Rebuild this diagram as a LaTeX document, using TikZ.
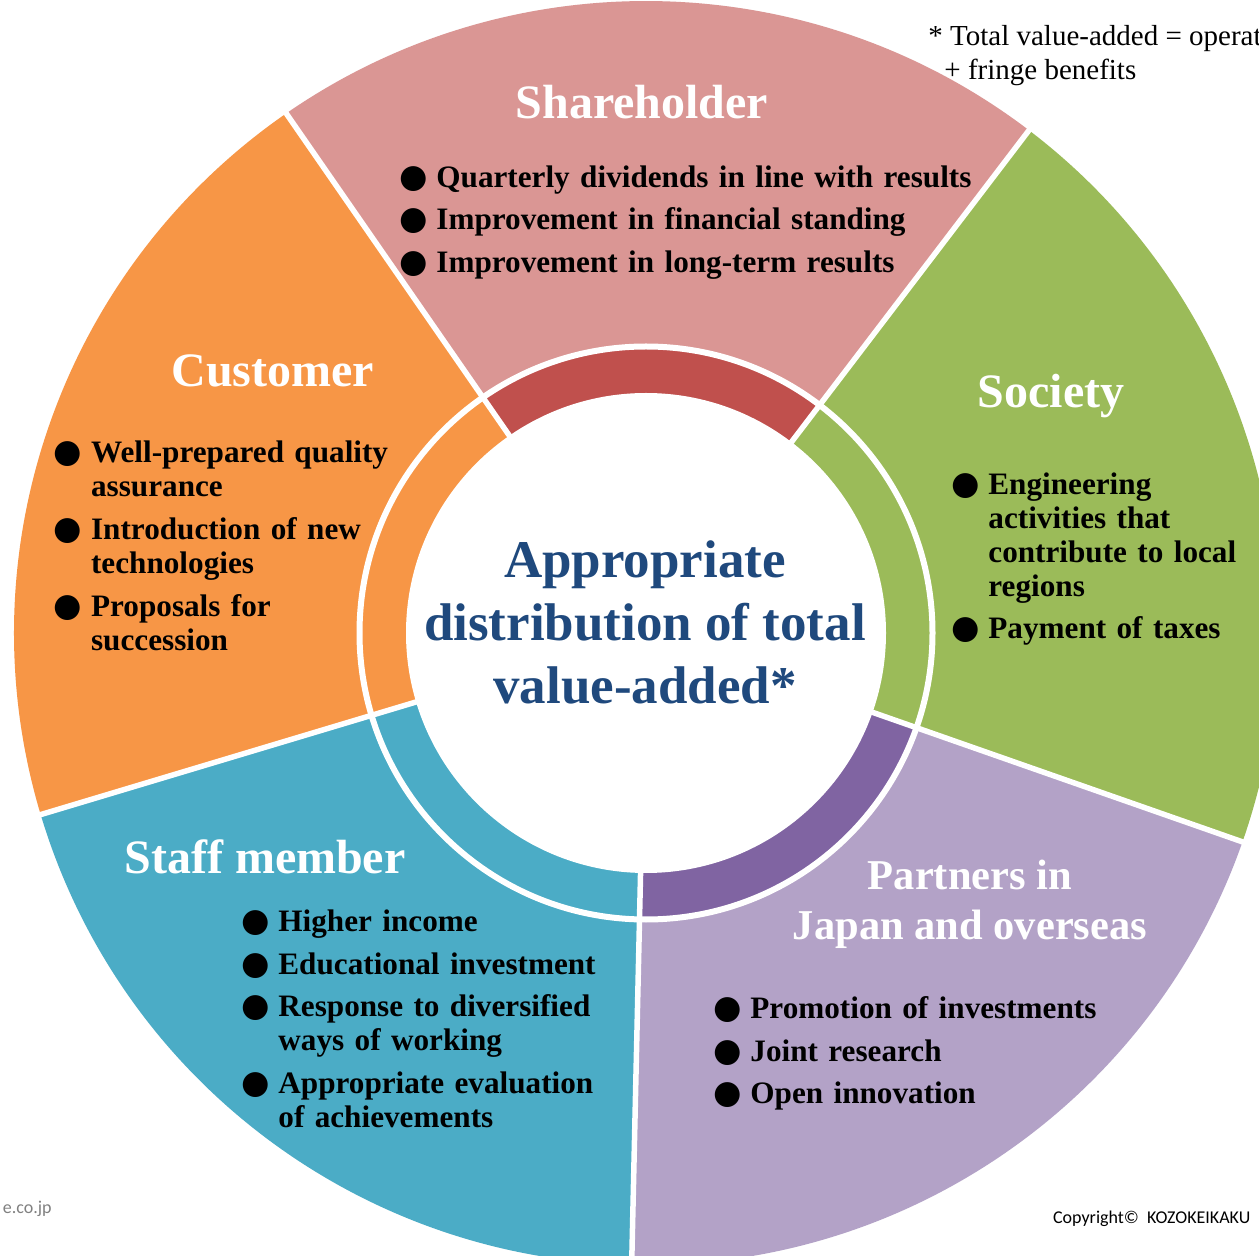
\documentclass[tikz,border=0pt]{standalone}
\usepackage{fontspec}
\setmainfont{Liberation Serif}
\newfontfamily\bulletfont{DejaVu Sans}
\newfontfamily\cpfont{Carlito}
\usetikzlibrary{calc}
\definecolor{shOut}{HTML}{DA9694}
\definecolor{shRing}{HTML}{C0504D}
\definecolor{soc}{HTML}{9BBB59}
\definecolor{paOut}{HTML}{B3A2C7}
\definecolor{paRing}{HTML}{8064A2}
\definecolor{staff}{HTML}{4BACC6}
\definecolor{cust}{HTML}{F79646}
\definecolor{navy}{HTML}{1F497D}
\newcommand\bulletglyph{\smash{\bulletfont\fontsize{16.3}{16.3}\selectfont ●}}
\newcommand\bitem[1]{\par\noindent\hangindent=17.5pt\hangafter=1\makebox[17.5pt][l]{\hspace*{-1.2pt}\rule{0pt}{13pt}\bulletglyph}#1}
\newcommand\wedgefill[4]{\fill[#1] (C) -- ++(#2:#4) arc[start angle=#2, end angle=#3, radius=#4] -- cycle;}
\begin{document}
\begin{tikzpicture}[x=0.5pt,y=0.5pt,
  title/.style={text=white, font=\fontsize{24}{24}\selectfont\bfseries, inner sep=0pt, anchor=base},
  ptitle/.style={text=white, font=\fontsize{21.25}{24.85}\selectfont\bfseries, inner sep=0pt, anchor=north, align=center},
  items/.style={text=black, font=\fontsize{15.6}{17}\selectfont\bfseries\setlength{\parskip}{4.4pt}, inner sep=0pt, anchor=north west, text width=300pt, align=left},
  centre/.style={text=navy, font=\fontsize{26.5}{31.5}\selectfont\bfseries, inner sep=0pt, anchor=north, align=center},
  sep/.style={white, line width=2.75pt},
  ringline/.style={white, line width=3pt}]
\useasboundingbox (0,0) rectangle (1259,-1256);
\clip (0,0) rectangle (1259,-1256);
\fill[white] (0,0) rectangle (1259,-1256);
\coordinate (C) at (646,-633);
% outer sectors
\wedgefill{soc}{-19.3}{52.7}{632}
\wedgefill{shOut}{52.7}{124.7}{632}
\wedgefill{cust}{124.7}{196.7}{632}
\wedgefill{staff}{196.7}{268.7}{632}
\wedgefill{paOut}{268.7}{340.7}{632}
% inner ring
\wedgefill{soc}{-19.3}{52.7}{287}
\wedgefill{shRing}{52.7}{124.7}{287}
\wedgefill{cust}{124.7}{196.7}{287}
\wedgefill{staff}{196.7}{268.7}{287}
\wedgefill{paRing}{268.7}{340.7}{287}
\draw[ringline] (C) circle[radius=286.5];
\foreach \a in {52.7,124.7,196.7,268.7,340.7} \draw[sep] (C) -- ++(\a:700);
\fill[white] (C) circle[radius=240];
% titles
\node[title] (tsh) at (642,-119) {Shareholder};
\node[title] (tcu) at (272.7,-386.7) {Customer};
\node[title] (tso) at (1051,-408) {Society};
\node[title] (tst) at (265,-873) {Staff member};
\node[ptitle] (tpa) at (970,-853.3) {\rule{0pt}{18pt}Partners in\\Japan and overseas};
% bullet lists
\node[items] (lsh) at (401,-144) {\bitem{Quarterly dividends in line with results}\bitem{Improvement in financial standing}\bitem{Improvement in long-term results}\par};
\node[items] (lcu) at (55.7,-419.7) {\bitem{Well-prepared quality\newline assurance}\bitem{Introduction of new\newline technologies}\bitem{Proposals for\newline succession}\par};
\node[items] (lso) at (953,-451) {\bitem{Engineering\newline activities that\newline contribute to local\newline regions}\bitem{Payment of taxes}\par};
\node[items] (lst) at (243,-888) {\bitem{Higher income}\bitem{Educational investment}\bitem{Response to diversified\newline ways of working}\bitem{Appropriate evaluation\newline of achievements}\par};
\node[items] (lpa) at (715,-975) {\bitem{Promotion of investments}\bitem{Joint research}\bitem{Open innovation}\par};
% centre
\node[centre] (ctr) at (645,-534.7) {\rule{0pt}{21pt}Appropriate\\distribution of total\\value-added*};
% note
\node[inner sep=0pt, anchor=north west, align=left, font=\fontsize{14.5}{17}\selectfont] (note) at (928,-21) {\rule{0pt}{12pt}* Total value-added = operat\\\hspace*{8pt}+ fringe benefits};
% credits
\node[inner sep=0pt, anchor=base west, font=\cpfont\fontsize{9}{9}\selectfont] (copy) at (1052.7,-1223) {Copyright© \ KOZOKEIKAKU};
\node[inner sep=0pt, anchor=base east, text=gray, font=\cpfont\fontsize{9}{9}\selectfont] (url) at (52,-1213) {e.co.jp};
\end{tikzpicture}
\end{document}
